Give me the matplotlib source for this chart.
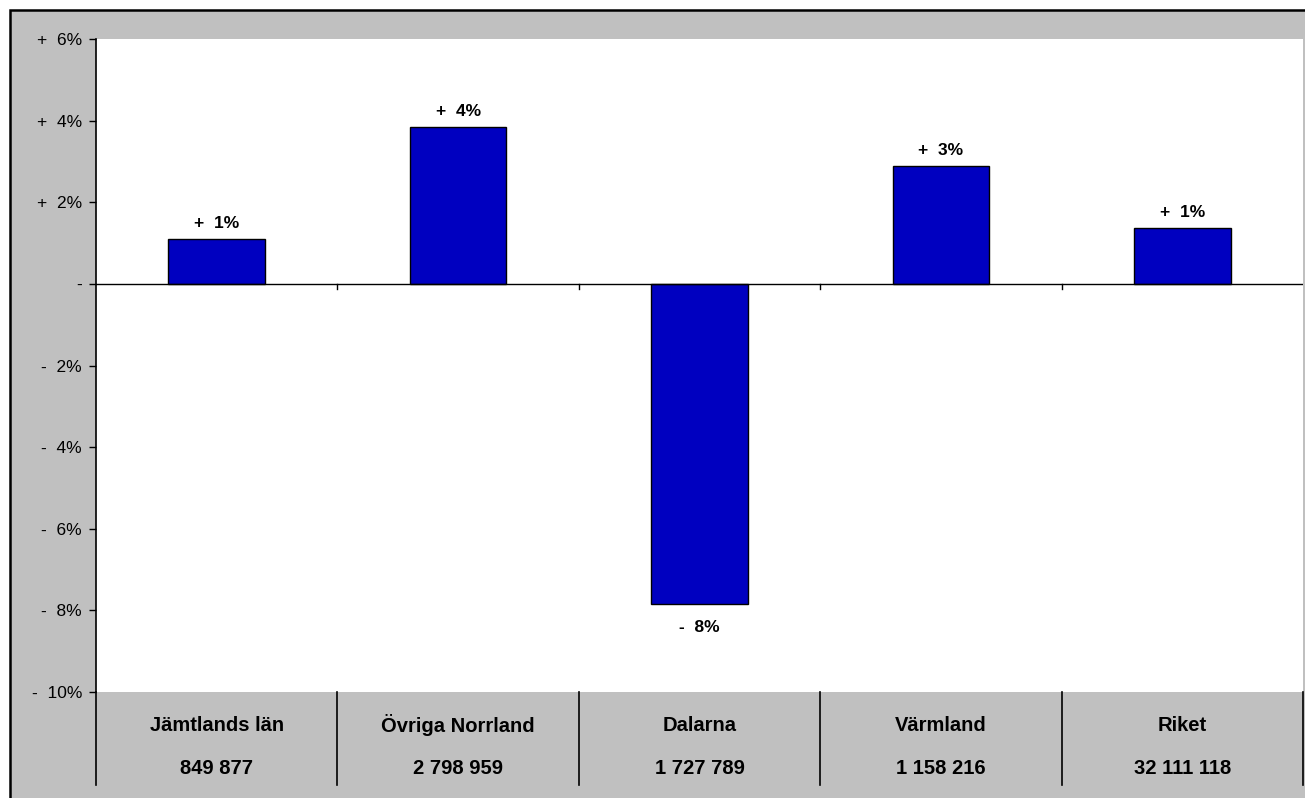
import matplotlib.pyplot as plt
from matplotlib.patches import Rectangle

# data
categories = ['Jämtlands län', 'Övriga Norrland', 'Dalarna', 'Värmland', 'Riket']
totals = ['849 877', '2 798 959', '1 727 789', '1 158 216', '32 111 118']
change_pct = [1.1, 3.85, -7.84, 2.89, 1.37]
bar_labels = ['+  1%', '+  4%', '-  8%', '+  3%', '+  1%']
yticks = [-10, -8, -6, -4, -2, 0, 2, 4, 6]

plt.rcParams['font.family'] = ['Liberation Sans', 'DejaVu Sans']

W, H = 1305, 798
fig = plt.figure(figsize=(W / 100, H / 100), dpi=100)
fig.patch.set_facecolor('white')

# gray chart area with black frame (cut off at right/bottom)
fig.patches.append(Rectangle((10 / W, -0.05), 1.2, (H - 10) / H + 0.05,
                             transform=fig.transFigure, facecolor='#C0C0C0',
                             edgecolor='black', linewidth=1.8, zorder=-10))

ax = fig.add_axes([96 / W, (H - 692) / H, (1303 - 96) / W, (692 - 39) / H])
ax.set_zorder(1)
ax.set_facecolor('white')

x = range(len(categories))
ax.bar(x, change_pct, width=0.4, color='#0000C0', edgecolor='black', linewidth=1, zorder=2)

ax.set_xlim(-0.5, len(categories) - 0.5)
ax.set_ylim(-10, 6)

for s in ['top', 'right', 'bottom']:
    ax.spines[s].set_visible(False)
ax.spines['left'].set_linewidth(1.2)

def fmt(v):
    if v == 0:
        return '-'
    sign = '+' if v > 0 else '-'
    return f'{sign}  {abs(v)}%'

ax.set_yticks(yticks)
ax.set_yticklabels([fmt(v) for v in yticks], fontsize=12.5)
ax.tick_params(axis='y', length=5, width=1, pad=5)
ax.set_xticks([])

# zero line with small category ticks
ax.axhline(0, color='black', linewidth=1, zorder=3)
for b in range(1, len(categories)):
    ax.plot([b - 0.5, b - 0.5], [0, -0.13], color='black', linewidth=1, zorder=3)

# value labels
for i, (v, lab) in enumerate(zip(change_pct, bar_labels)):
    if v >= 0:
        ax.text(i, v + 0.2, lab, ha='center', va='bottom', fontsize=12.5, fontweight='bold')
    else:
        ax.text(i, v - 0.4, lab, ha='center', va='top', fontsize=12.5, fontweight='bold')

# data table below the axis
tr = ax.get_xaxis_transform()
for b in range(len(categories) + 1):
    ax.plot([b - 0.5, b - 0.5], [0, -0.142], color='black', linewidth=1.2,
            transform=tr, clip_on=False)
for i, (c, t) in enumerate(zip(categories, totals)):
    ax.text(i, -0.051, c, transform=tr, ha='center', va='center', fontsize=14.5, fontweight='bold')
    ax.text(i, -0.117, t, transform=tr, ha='center', va='center', fontsize=14.5, fontweight='bold')

fig.savefig('out.png', dpi=100)
